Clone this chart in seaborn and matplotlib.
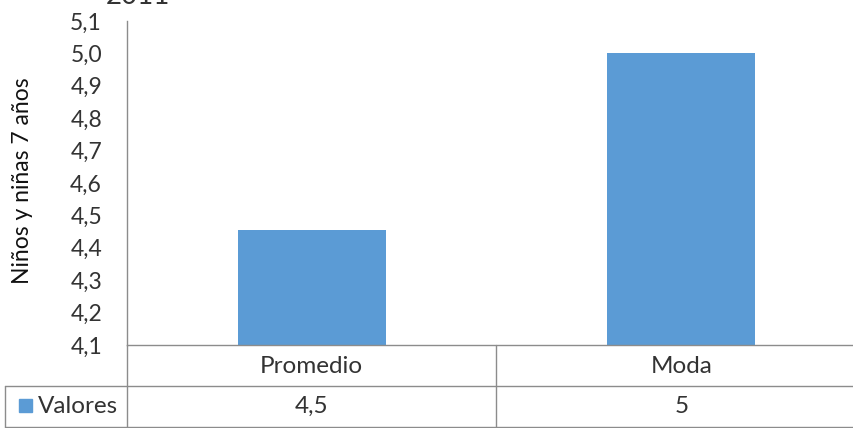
import matplotlib
matplotlib.use("Agg")
import matplotlib.pyplot as plt
import seaborn as sns
import pandas as pd
from matplotlib.lines import Line2D
from matplotlib.patches import Rectangle
from matplotlib.ticker import FuncFormatter, MultipleLocator
import matplotlib.transforms as mtrans

categories = ["Promedio", "Moda"]
values = [4.455, 5.0]
table_labels = ["4,5", "5"]
series_name = "Valores"
y_label = "Niños y niñas 7 años"
title = "2011"

sns.set_theme(style="white")
plt.rcParams['font.family'] = ['Lato', 'DejaVu Sans']

W, H = 854, 428
fig = plt.figure(figsize=(W / 100, H / 100), dpi=100)
x0, x1, ytop, ybot = 127, 866, 21, 345
ax = fig.add_axes([x0 / W, (H - ybot) / H, (x1 - x0) / W, (ybot - ytop) / H])

df = pd.DataFrame({"cat": categories, "val": values})
bar_color = "#5B9BD5"
txt_col = "#333333"
sns.barplot(data=df, x="cat", y="val", color=bar_color, width=0.40,
            saturation=1, ax=ax, edgecolor="none")
ax.set_ylim(4.1, 5.1)
ax.set_xlim(-0.5, 1.5)
ax.yaxis.set_major_locator(MultipleLocator(0.1))
ax.yaxis.set_major_formatter(FuncFormatter(lambda v, p: f"{v:.1f}".replace(".", ",")))
ax.set_xlabel("")
ax.set_ylabel("")
fig.text(23 / W, (H - 181) / H, y_label, rotation=90, fontsize=16.5, color="#111111",
         ha="center", va="center")
ax.tick_params(axis="y", length=0, labelsize=16.5, labelcolor=txt_col, pad=18)
ax.tick_params(axis="x", length=0, labelsize=17.5, labelcolor=txt_col, pad=8)
ax.grid(False)
line_col = "#8C8C8C"
for s in ["top", "right"]:
    ax.spines[s].set_visible(False)
for s in ["left", "bottom"]:
    ax.spines[s].set_color(line_col)
    ax.spines[s].set_linewidth(1.0)

def fx(px):
    return px / W

def fy(py):
    return (H - py) / H

lines = [
    ((127, 127), (345, 428)),
    ((496, 496), (345, 428)),
    ((5, 854), (385.5, 385.5)),
    ((5, 854), (427.3, 427.3)),
    ((5, 5), (385.5, 427.3)),
]
for (xa, xb), (ya, yb) in lines:
    fig.add_artist(Line2D([fx(xa), fx(xb)], [fy(ya), fy(yb)], color=line_col, lw=1.0))

fig.add_artist(Rectangle((fx(19), fy(412)), 13 / W, 13 / H, color=bar_color,
                         transform=fig.transFigure))
fig.text(fx(38), fy(406.5), series_name, fontsize=17.5, color=txt_col, va="center", ha="left")

trans = mtrans.blended_transform_factory(ax.transData, fig.transFigure)
for i, lab in enumerate(table_labels):
    ax.text(i, fy(406.5), lab, transform=trans, fontsize=17.5, color=txt_col,
            ha="center", va="center", clip_on=False)

fig.text(fx(138), fy(4), title, fontsize=20, color="#333333", ha="center", va="baseline")

fig.savefig("out.png", dpi=100)
